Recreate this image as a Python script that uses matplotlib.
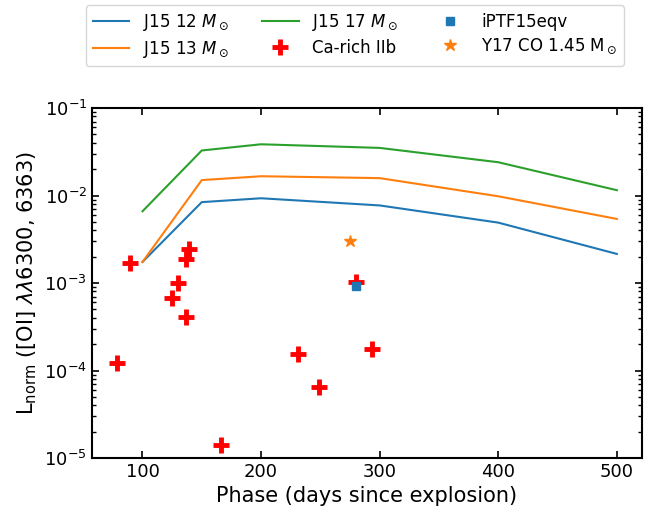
import numpy as np
import matplotlib
matplotlib.use("Agg")
import matplotlib.pyplot as plt

# model phases (days) and normalised [OI] luminosities
model_phase = [100, 150, 200, 300, 400, 500]
j15_12 = [1.74e-3, 8.4e-3, 9.3e-3, 7.7e-3, 4.9e-3, 2.15e-3]
j15_13 = [1.74e-3, 1.5e-2, 1.66e-2, 1.58e-2, 9.8e-3, 5.4e-3]
j15_17 = [6.6e-3, 3.27e-2, 3.85e-2, 3.5e-2, 2.4e-2, 1.15e-2]

# Ca-rich IIb sample
ca_phase = [78.4, 89.3, 125.2, 130.2, 136.6, 137.0, 139.2, 166.6, 231.3, 249.0, 280.1, 293.8]
ca_lnorm = [1.22e-4, 1.68e-3, 6.7e-4, 1.0e-3, 4.1e-4, 1.86e-3, 2.43e-3, 1.4e-5, 1.55e-4, 6.5e-5, 1.03e-3, 1.75e-4]

ptf_phase = [280.0]
ptf_lnorm = [9.2e-4]

y17_phase = [274.8]
y17_lnorm = [3.05e-3]

fig = plt.figure(figsize=(6.47, 5.08), dpi=100)
ax = fig.add_axes([0.142, 0.0984, 0.850, 0.689])

ax.plot(model_phase, j15_12, color='tab:blue', lw=1.5, label=r'J15 12 $M_\odot$')
ax.plot(model_phase, j15_13, color='tab:orange', lw=1.5, label=r'J15 13 $M_\odot$')
ax.plot(model_phase, j15_17, color='tab:green', lw=1.5, label=r'J15 17 $M_\odot$')
ax.plot(ca_phase, ca_lnorm, '+', color='red', ms=11, mew=3.5, ls='none', label='Ca-rich IIb')
ax.plot(ptf_phase, ptf_lnorm, 's', color='tab:blue', ms=6, ls='none', label='iPTF15eqv')
ax.plot(y17_phase, y17_lnorm, '*', color='tab:orange', ms=9, ls='none', label=r'Y17 CO 1.45 M$_\odot$')

ax.set_yscale('log')
ax.set_ylim(1e-5, 1e-1)
ax.set_xticks([100, 200, 300, 400, 500])

ax.set_xlabel('Phase (days since explosion)', fontsize=15)
ax.set_ylabel(r'L$_{\rm norm}$ ([OI] $\lambda\lambda$6300, 6363)', fontsize=15)

ax.tick_params(which='both', direction='in', top=True, right=True, labelsize=13)
ax.tick_params(which='major', length=5, width=1.2)
ax.tick_params(which='minor', length=3, width=1)
for s in ax.spines.values():
    s.set_linewidth(1.5)

fig.legend(loc='upper center', bbox_to_anchor=(0.549, 1.006), ncol=3, fontsize=12,
           handlelength=2.2, columnspacing=2.0, labelspacing=0.35)

fig.savefig('out.png', dpi=100)
